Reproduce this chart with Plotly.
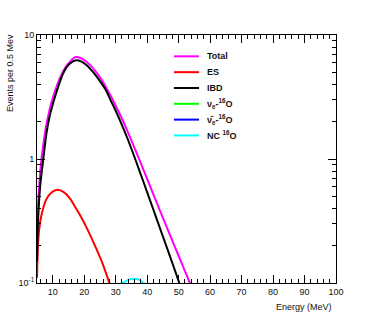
import plotly.graph_objects as go

# ---- data ----
energy_total = [5.0, 5.5, 6.4, 7.0, 8.0, 9.0, 10.0, 11.0, 12.0, 13.0, 14.2, 15.5, 17.2, 19.0, 20.6, 22.0,
                23.8, 25.5, 27.0, 28.2, 30.0, 32.0, 34.0, 37.2, 40.0, 43.0, 46.0, 49.0, 51.0, 53.5, 55.0]
total = [0.25, 0.5, 1.0, 1.3, 1.9, 2.5, 3.1, 3.7, 4.32, 4.92, 5.57, 6.1, 6.65, 6.49, 6.12, 5.69,
         5.01, 4.37, 3.76, 3.31, 2.69, 2.11, 1.62, 1.035, 0.69, 0.447, 0.292, 0.19, 0.144, 0.101, 0.082]

energy_ibd = [5.0, 5.3, 6.0, 7.0, 8.0, 9.0, 10.0, 11.0, 12.0, 13.0, 14.2, 15.5, 17.4, 19.0, 20.6, 22.0,
              23.8, 25.5, 27.0, 28.2, 30.0, 31.4, 34.0, 36.2, 38.9, 42.0, 45.0, 48.0, 50.0, 52.0]
ibd = [0.15, 0.3, 0.6, 1.0, 1.6, 2.2, 2.75, 3.35, 4.0, 4.7, 5.4, 5.9, 6.25, 6.12, 5.75, 5.31,
       4.68, 4.07, 3.55, 3.05, 2.45, 2.04, 1.41, 1.0, 0.646, 0.389, 0.237, 0.145, 0.1035, 0.074]

energy_es = [5.0, 5.3, 5.7, 6.5, 7.9, 9.5, 11.6, 13.5, 15.5, 17.4, 19.0, 20.6, 22.0, 23.8, 26.0, 28.0, 29.0]
es = [0.11, 0.2, 0.27, 0.36, 0.47, 0.535, 0.565, 0.54, 0.48, 0.40, 0.34, 0.285, 0.24, 0.19, 0.14, 0.1, 0.085]

energy_nue_o = [20.0, 25.0, 30.0, 35.0, 40.0, 45.0, 50.0]
nue_o = [0.03, 0.05, 0.065, 0.07, 0.065, 0.05, 0.035]

energy_anue_o = [20.0, 25.0, 30.0, 35.0, 40.0, 45.0, 50.0]
anue_o = [0.02, 0.035, 0.045, 0.05, 0.045, 0.035, 0.025]

energy_nc_o = [30.0, 32.0, 34.0, 35.8, 37.5, 39.0, 41.0]
nc_o = [0.09, 0.099, 0.106, 0.108, 0.106, 0.0995, 0.09]

series_names = ["Total", "ES", "IBD",
                "ν<sub>e</sub>-<sup>16</sup>O",
                "ν̄<sub>e</sub>-<sup>16</sup>O",
                "NC <sup>16</sup>O"]
series_colors = ["#ff00ff", "#ff0000", "#000000", "#00ff00", "#0000ff", "#00ffff"]

x_tick_vals = [10, 20, 30, 40, 50, 60, 70, 80, 90, 100]
y_tick_vals = [0.1, 1, 10]
y_tick_text = ["10<sup>-1</sup>", "1", "10"]
y_minor_vals = [m * d for d in (0.1, 1) for m in range(2, 10)]

xs = [energy_total, energy_es, energy_ibd, energy_nue_o, energy_anue_o, energy_nc_o]
ys = [total, es, ibd, nue_o, anue_o, nc_o]

font_family = "Liberation Sans, Arial, Helvetica, sans-serif"

fig = go.Figure()
for x, y, name, col in zip(xs, ys, series_names, series_colors):
    fig.add_trace(go.Scatter(x=x, y=y, mode="lines", name=name, showlegend=False,
                             line=dict(color=col, width=2, shape="spline", smoothing=0.7)))

# legend drawn in the ROOT (TLegend) style: short line + bold label, compact rows
shapes = []
annotations = []
leg_x0, leg_x1, leg_tx = 0.458, 0.542, 0.562
leg_y0, leg_dy = 0.914, 0.0638
for i, (name, col) in enumerate(zip(series_names, series_colors)):
    yy = leg_y0 - i * leg_dy
    shapes.append(dict(type="line", xref="paper", yref="paper", x0=leg_x0, x1=leg_x1,
                       y0=yy, y1=yy, line=dict(color=col, width=2)))
    annotations.append(dict(text="<b>%s</b>" % name, xref="paper", yref="paper", x=leg_tx, y=yy,
                            xanchor="left", yanchor="middle", showarrow=False,
                            font=dict(size=9, family=font_family, color="#111111")))

annotations += [
    dict(text="Energy (MeV)", xref="paper", yref="paper", x=0.993, y=-0.095,
         xanchor="right", yanchor="middle", showarrow=False,
         font=dict(size=9, family=font_family, color="#111111")),
    dict(text="Events per 0.5 Mev", xref="paper", yref="paper", x=-0.090, y=1.012,
         xanchor="center", yanchor="top", showarrow=False, textangle=-90,
         font=dict(size=9, family=font_family, color="#111111")),
]

fig.update_layout(
    width=374, height=316,
    margin=dict(l=37, r=38, t=35, b=33),
    paper_bgcolor="white", plot_bgcolor="white",
    font=dict(family=font_family, size=9, color="#111111"),
    showlegend=False,
    shapes=shapes,
    annotations=annotations,
    xaxis=dict(range=[5, 100], tickvals=x_tick_vals, ticks="inside", ticklen=8,
               tickcolor="black", tickwidth=1,
               showline=True, linecolor="black", linewidth=1, mirror="allticks",
               showgrid=False, zeroline=False, tickfont=dict(size=9),
               minor=dict(dtick=2, ticks="inside", ticklen=4, tickcolor="black", showgrid=False)),
    yaxis=dict(type="log", range=[-1, 1], tickvals=y_tick_vals, ticktext=y_tick_text,
               ticks="inside", ticklen=8, tickcolor="black", tickwidth=1,
               showline=True, linecolor="black", linewidth=1, mirror="allticks",
               showgrid=False, zeroline=False, tickfont=dict(size=9),
               minor=dict(tickvals=y_minor_vals, ticks="inside", ticklen=4,
                          tickcolor="black", showgrid=False)),
)

# remove the default 8px page margin so the 374x316 figure fills the window exactly
fig.write_html("out.html", config={"displayModeBar": False},
               post_script="document.body.style.margin='0';")
